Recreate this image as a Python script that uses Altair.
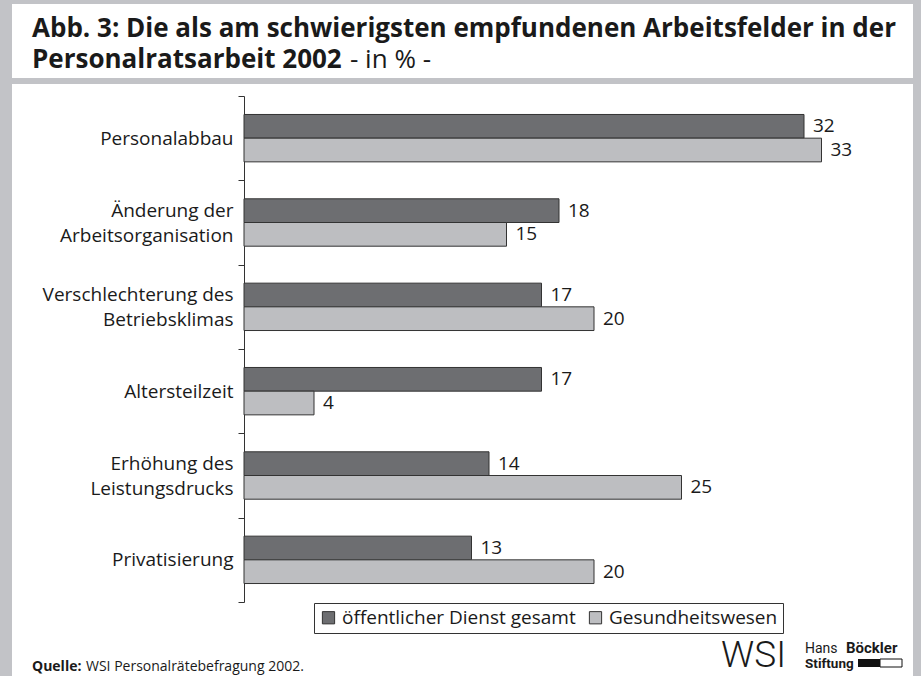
import altair as alt
import pandas as pd

# ---- data ----
categories = [
    "Personalabbau",
    "Änderung der|Arbeitsorganisation",
    "Verschlechterung des|Betriebsklimas",
    "Altersteilzeit",
    "Erhöhung des|Leistungsdrucks",
    "Privatisierung",
]
series = ["öffentlicher Dienst gesamt", "Gesundheitswesen"]
oeffentlicher_dienst = [32, 18, 17, 17, 14, 13]
gesundheitswesen = [33, 15, 20, 4, 25, 20]
colors = ["#6d6e71", "#bdbec1"]

title_line1 = "Abb. 3: Die als am schwierigsten empfundenen Arbeitsfelder in der"
title_line2_bold = "Personalratsarbeit 2002"
title_line2_reg = "- in % -"
source_bold = "Quelle:"
source_reg = "WSI Personalrätebefragung 2002."

rows = []
for c, a, b in zip(categories, oeffentlicher_dienst, gesundheitswesen):
    rows.append({"cat": c, "series": series[0], "value": a})
    rows.append({"cat": c, "series": series[1], "value": b})
df = pd.DataFrame(rows)

# ---- layout ----
OX, OY = 244, 96
W, H = 665, 506
FW, FH = 921, 676
GREY = "#c2c3c7"
one = pd.DataFrame({"k": [0]})


def rect(x1, y1, x2, y2, fill, stroke=None, sw=1):
    kw = dict(fill=fill)
    if stroke:
        kw.update(stroke=stroke, strokeWidth=sw)
    else:
        kw.update(strokeWidth=0)
    return alt.Chart(one).mark_rect(**kw).encode(
        x=alt.value(x1 - OX), x2=alt.value(x2 - OX),
        y=alt.value(y1 - OY), y2=alt.value(y2 - OY),
    )


def text(s, x, y, size, weight="normal", font="Open Sans", align="left", color="#1a1a1a"):
    return alt.Chart(one).mark_text(
        text=s, align=align, baseline="alphabetic", fontSize=size,
        fontWeight=weight, font=font, color=color,
    ).encode(x=alt.value(x - OX), y=alt.value(y - OY))


frame = [
    rect(0, 0, FW, 4, GREY),
    rect(0, 0, 12, FH, GREY),
    rect(913, 0, FW, FH, GREY),
    rect(0, 78, FW, 84, GREY),
]

titles = [
    text(title_line1, 32, 37, 26, "bold"),
    text(title_line2_bold, 32, 68, 26, "bold"),
    text(title_line2_reg, 350, 68, 26, "normal"),
]

footer = [
    text(source_bold, 32, 671, 14, "bold"),
    text(source_reg, 86, 671, 14, "normal"),
    text("WSI", 786, 667, 37, 300, font="Roboto", align="right"),
    text("Hans", 805, 653, 14, "normal", font="Roboto"),
    text("Böckler", 846, 653, 15, "bold", font="Roboto"),
    text("Stiftung", 805, 668, 13.5, "bold", font="Roboto"),
    rect(858, 659, 880, 667, "#111111"),
    rect(880, 659, 902, 667, "white", stroke="#111111", sw=1),
]

y_enc = alt.Y(
    "cat:N", sort=categories,
    scale=alt.Scale(paddingInner=0, paddingOuter=0),
    axis=alt.Axis(
        title=None, labelExpr="split(datum.label, '|')",
        labelFont="Open Sans", labelFontSize=19, labelColor="#1a1a1a",
        labelLineHeight=25, labelLimit=400, tickBand="extent", tickSize=6,
        tickColor="#333333", domainColor="#333333", labelPadding=5,
        labelOffset=alt.ExprRef("indexof(datum.label, '|') >= 0 ? -12.5 : 0"),
        grid=False,
    ),
)
yoff = alt.YOffset("series:N", sort=series,
                   scale=alt.Scale(paddingInner=0, paddingOuter=0.78))
x_enc = alt.X("value:Q", scale=alt.Scale(domain=[0, 38], nice=False), axis=None)

bars = alt.Chart(df).mark_bar(stroke="#333333", strokeWidth=1).encode(
    y=y_enc, yOffset=yoff, x=x_enc,
    color=alt.Color(
        "series:N", sort=series,
        scale=alt.Scale(domain=series, range=colors),
        legend=alt.Legend(
            title=None, orient="none", legendX=314 - OX, legendY=603 - OY,
            direction="horizontal", symbolType="square", symbolSize=150,
            symbolStrokeColor="#333333", symbolStrokeWidth=1,
            symbolOpacity=1, labelLimit=400,
            labelFont="Open Sans", labelFontSize=19, labelColor="#1a1a1a",
            strokeColor="#333333", fillColor="white", padding=5,
            columnPadding=10, labelOffset=4,
        ),
    ),
)

labels = alt.Chart(df).mark_text(
    align="left", baseline="middle", dx=9, font="Open Sans",
    fontSize=19, color="#1a1a1a",
).encode(y=y_enc, yOffset=yoff, x=x_enc, text="value:Q")

chart = alt.layer(*frame, *titles, *footer, bars, labels).properties(
    width=W, height=H,
    autosize=alt.AutoSizeParams(type="none"),
    padding={"left": OX, "top": OY, "right": FW - OX - W, "bottom": FH - OY - H},
    background="white",
).configure_view(stroke=None)

chart.save("out.html", embed_options={"renderer": "svg", "actions": False})
